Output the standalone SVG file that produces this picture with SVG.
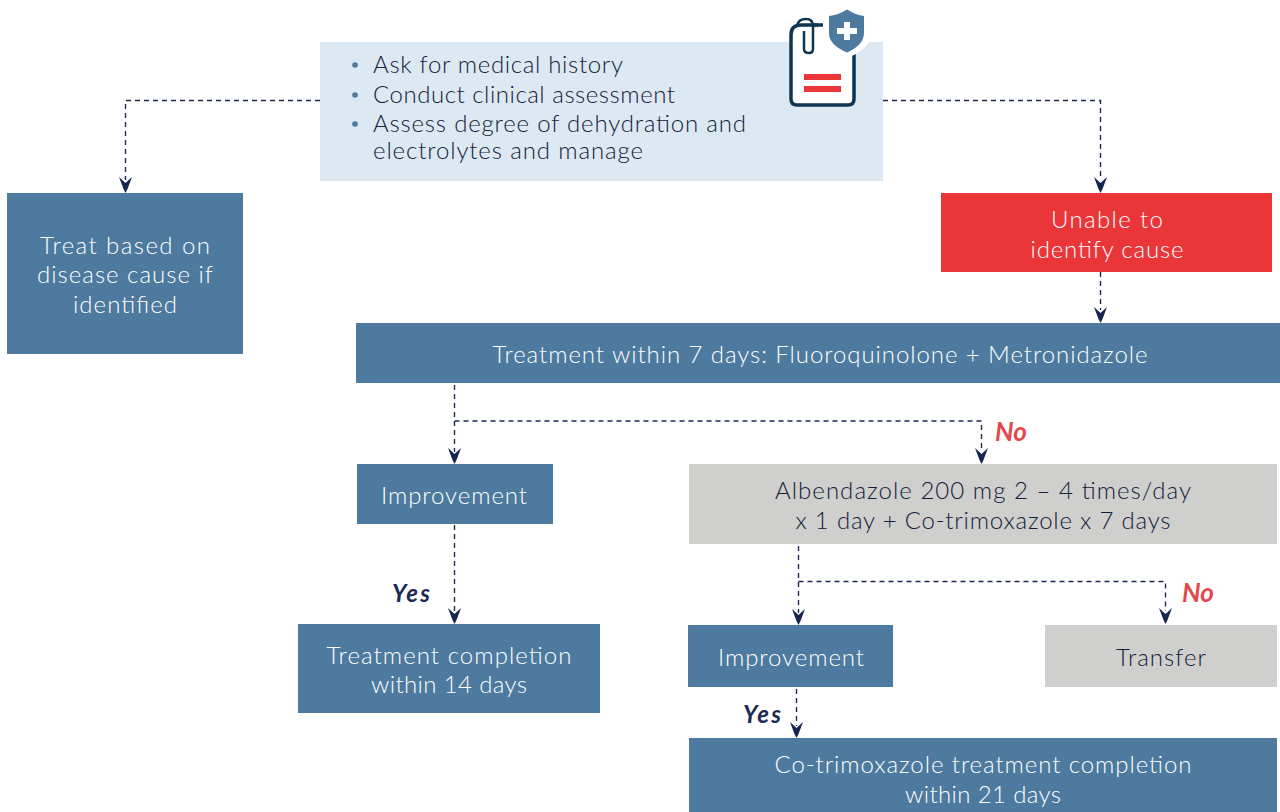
<svg xmlns="http://www.w3.org/2000/svg" width="1280" height="812" viewBox="0 0 1280 812">
<style>
.t{font-family:"Lato","Liberation Sans",sans-serif;font-weight:300;font-size:24px;text-anchor:middle}
.w{fill:#fff}
.d{fill:#14203a}
.l{font-family:"Lato","Liberation Sans",sans-serif;font-weight:300;font-size:24px;fill:#14203a}
.lab{font-family:"Lato","Liberation Sans",sans-serif;font-weight:700;font-style:italic;font-size:26px}
.b{fill:#4d7a9e}
.g{fill:#cfcfcd}
.c{fill:none;stroke:#1c2a55;stroke-width:1.4;stroke-dasharray:5 4}
.a{fill:#16264f}
</style>
<defs>
<path id="ah" d="M-6.500,-15 L0,-9 L6.500,-15 L2,-3 L0,1 L-2,-3 Z" class="a"/>
</defs>
<rect width="1280" height="812" fill="#fff"/>
<g id="connectors">
<path class="c" d="M320,100.500H125.500V180"/>
<path class="c" d="M883,100.500H1100.500V180"/>
<path class="c" d="M1100.500,272V310"/>
<path class="c" d="M454.500,385V452"/>
<path class="c" d="M454.500,421H981.500V451"/>
<path class="c" d="M454.500,525V612"/>
<path class="c" d="M798.500,546V613"/>
<path class="c" d="M798.500,581.500H1165.500V611"/>
<path class="c" d="M796.500,689V726"/>
<use href="#ah" x="125.500" y="192"/>
<use href="#ah" x="1100.500" y="192"/>
<use href="#ah" x="1100.500" y="322"/>
<use href="#ah" x="454.500" y="463"/>
<use href="#ah" x="981.500" y="463"/>
<use href="#ah" x="454.500" y="623"/>
<use href="#ah" x="798.500" y="624"/>
<use href="#ah" x="1165.500" y="623"/>
<use href="#ah" x="796.500" y="737"/>
</g>
<g id="assess">
<rect x="320" y="42" width="563" height="139" fill="#dce8f2"/>
<g fill="#4d7a9e"><circle cx="355" cy="65" r="2.800"/><circle cx="355" cy="95" r="2.800"/><circle cx="355" cy="124" r="2.800"/></g>
<text class="l" x="373" y="73" textLength="250">Ask for medical history</text>
<text class="l" x="373" y="103" textLength="302">Conduct clinical assessment</text>
<text class="l" x="373" y="132" textLength="373">Assess degree of dehydration and</text>
<text class="l" x="373" y="159" textLength="270">electrolytes and manage</text>
</g>
<g id="clipboard-icon">
<path d="M818,25H801Q791,25 791,35V99Q791,105 797,105H848Q854,105 854,99V50" fill="#fff" stroke="#0f3550" stroke-width="3.500"/>
<path d="M812,25H823" fill="none" stroke="#0f3550" stroke-width="3.500"/>
<path d="M804,31V49Q804,53 809,53Q813,53 813,49V26Q813,19 806,19Q798,19 797,26" fill="none" stroke="#0f3550" stroke-width="2.500"/>
<rect x="804" y="74" width="37" height="6" fill="#ea3539"/>
<rect x="804" y="86" width="37" height="6" fill="#ea3539"/>
<path d="M847,6Q857,14 871,15V33Q871,49 847,58Q823,49 823,33V15Q837,14 847,6Z" fill="#fff"/>
<path d="M847,9.500Q856,15 864,16V33Q864,45 847,52.500Q829,45 829,33V16Q838,15 847,9.500Z" fill="#4d7a9e"/>
<path d="M844,22H850V28H857V34H850V40H844V34H837V28H844Z" fill="#fff"/>
</g>
<g id="treat-cause">
<rect class="b" x="7" y="193" width="236" height="161"/>
<text class="t w" x="125" y="254" textLength="170">Treat based on</text>
<text class="t w" x="125" y="283" textLength="176">disease cause if</text>
<text class="t w" x="125" y="313" textLength="104">identified</text>
</g>
<g id="unable">
<rect x="941" y="193" width="331" height="79" fill="#ea3539"/>
<text class="t w" x="1107" y="228" textLength="112">Unable to</text>
<text class="t w" x="1107" y="258" textLength="153">identify cause</text>
</g>
<g id="treatment-7">
<rect class="b" x="356" y="323" width="924" height="60"/>
<text class="t w" x="820" y="363" textLength="655">Treatment within 7 days: Fluoroquinolone + Metronidazole</text>
</g>
<g id="improvement-1">
<rect class="b" x="357" y="464" width="196" height="60"/>
<text class="t w" x="454" y="504" textLength="146">Improvement</text>
</g>
<g id="albendazole">
<rect class="g" x="689" y="464" width="588" height="80"/>
<text class="t d" x="983" y="499" textLength="416">Albendazole 200 mg 2 – 4 times/day</text>
<text class="t d" x="983" y="529" textLength="375">x 1 day + Co-trimoxazole x 7 days</text>
</g>
<g id="completion-14">
<rect class="b" x="298" y="624" width="302" height="89"/>
<text class="t w" x="449" y="664" textLength="245">Treatment completion</text>
<text class="t w" x="449" y="693" textLength="156">within 14 days</text>
</g>
<g id="improvement-2">
<rect class="b" x="688" y="625" width="205" height="62"/>
<text class="t w" x="791" y="666" textLength="146">Improvement</text>
</g>
<g id="transfer">
<rect class="g" x="1045" y="625" width="232" height="62"/>
<text class="t d" x="1161" y="666" textLength="90">Transfer</text>
</g>
<g id="completion-21">
<rect class="b" x="689" y="738" width="588" height="74"/>
<text class="t w" x="983" y="773" textLength="417">Co-trimoxazole treatment completion</text>
<text class="t w" x="983" y="803" textLength="156">within 21 days</text>
</g>
<g id="labels">
<text class="lab" x="995" y="441" fill="#e4474d">No</text>
<text class="lab" x="1182" y="602" fill="#e4474d">No</text>
<text class="lab" x="392" y="602" fill="#1c2a55" style="font-size:24px" textLength="38">Yes</text>
<text class="lab" x="743" y="723" fill="#1c2a55" style="font-size:24px" textLength="38">Yes</text>
</g>
</svg>
